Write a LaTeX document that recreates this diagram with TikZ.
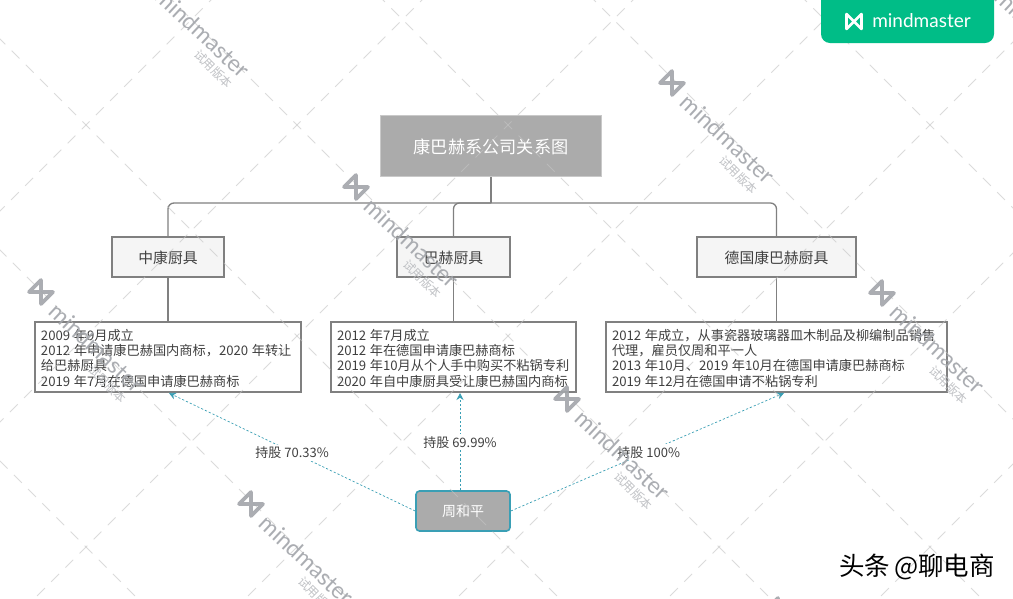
\documentclass[tikz,border=0pt]{standalone}
\usepackage{fontspec}
\setmainfont{Noto Sans CJK SC}
\newfontfamily\latofont{Lato}
\usetikzlibrary{arrows.meta}
\definecolor{rootgray}{HTML}{ABABAB}
\definecolor{rootedge}{HTML}{C9C9C9}
\definecolor{kidfill}{HTML}{F5F5F5}
\definecolor{edgegray}{HTML}{808080}
\definecolor{inkgray}{HTML}{404040}
\definecolor{tealline}{HTML}{3A9FB5}
\definecolor{tabgreen}{HTML}{00BD87}
\definecolor{wmgray}{HTML}{A2A5AA}
\definecolor{wmline}{HTML}{C4C4C4}
\newcommand{\yy}{\kern3.5pt}
\newcommand{\lowtxt}[1]{\raisebox{-0.41em}[6pt][6pt]{#1}}
\tikzset{
  rootbox/.style={draw=rootedge,line width=1.5pt,fill=rootgray,text=white,minimum width=221pt,minimum height=61pt,inner sep=0pt,font=\fontsize{17.2}{20}\selectfont},
  kidbox/.style={draw=edgegray,line width=1.2pt,fill=kidfill,text=inkgray,minimum height=40pt,inner sep=0pt,font=\fontsize{14.8}{18}\selectfont},
  infobox/.style={draw=edgegray,line width=1.2pt,fill=white,text=inkgray,minimum height=70pt,inner sep=0pt,align=left,font=\fontsize{13.2}{15.4}\selectfont},
  personbox/.style={draw=tealline,line width=1.6pt,fill=rootgray,text=white,rounded corners=3.5pt,minimum width=94pt,minimum height=40pt,inner sep=0pt,font=\fontsize{14}{17}\selectfont},
  trunk/.style={draw=edgegray,line width=1.3pt,rounded corners=6pt},
  stem/.style={draw=edgegray,line width=1.3pt},
  holdline/.style={draw=tealline,line width=.7pt,dash pattern=on 2.2pt off 2pt,-{Stealth[length=7pt,width=7pt,fill=tealline]}},
  holdlabel/.style={fill=white,text=inkgray,inner sep=2pt,font=\fontsize{13}{15}\selectfont},
  wmgrid/.style={draw=wmline,line width=.8pt,dash pattern=on 11pt off 9pt},
  wmname/.style={text=wmgray,font=\latofont\fontsize{23}{23}\selectfont,inner sep=0pt},
  wmsub/.style={text=wmgray!75,font=\fontsize{12}{12}\selectfont,inner sep=0pt},
  wmlogo/.style={draw=wmgray,line width=3.6pt,line join=round,line cap=round},
}
\begin{document}
\begin{tikzpicture}[x=1pt,y=-1pt]
\useasboundingbox (0,0) rectangle (1013,598);
\fill[white] (0,0) rectangle (1013,598);
% nodes
\node[rootbox] (root) at (491,146) {\lowtxt{康巴赫系公司关系图}};
\node[kidbox,minimum width=112pt] (kidA) at (168,257) {\lowtxt{中康厨具}};
\node[kidbox,minimum width=113pt] (kidB) at (453.5,257) {\lowtxt{巴赫厨具}};
\node[kidbox,minimum width=159pt] (kidC) at (776.5,257) {\lowtxt{德国康巴赫厨具}};
\node[infobox,text width=254pt,minimum width=266pt,inner xsep=6pt] (infoA) at (168,357) {\rule{0pt}{13.5pt}2009\yy 年9月成立\\2012\yy 年申请康巴赫国内商标，2020\yy 年转让\\给巴赫厨具\\2019\yy 年7月在德国申请康巴赫商标};
\node[infobox,text width=233pt,minimum width=245pt,inner xsep=6pt] (infoB) at (453.5,357) {\rule{0pt}{13.5pt}2012\yy 年7月成立\\2012\yy 年在德国申请康巴赫商标\\2019\yy 年10月从个人手中购买不粘锅专利\\2020\yy 年自中康厨具受让康巴赫国内商标};
\node[infobox,text width=329pt,minimum width=341pt,inner xsep=6pt] (infoC) at (776.5,357) {\rule{0pt}{13.5pt}2012\yy 年成立，从事瓷器玻璃器皿木制品及柳编制品销售\\代理，雇员仅周和平一人\\2013\yy 年10月、2019\yy 年10月在德国申请康巴赫商标\\2019\yy 年12月在德国申请不粘锅专利};
\node[personbox] (zhou) at (463,511) {周和平};
% tree connectors
\coordinate (bus) at (491,203);
\draw[stem] (root.south) -- (bus);
\draw[trunk] (kidA.north) |- (bus);
\draw[trunk] (kidB.north) |- (bus);
\draw[trunk] (kidC.north) |- (bus);
\draw[stem] (kidA.south) -- (infoA.north);
\draw[stem] (kidB.south) -- (infoB.north);
\draw[stem] (kidC.south) -- (infoC.north);
% holdings
\coordinate (endA) at (169,393);
\coordinate (endB) at (460,393);
\coordinate (endC) at (784,393);
\coordinate (zhouTop) at (460,490);
\draw[holdline] (zhou.west) -- node[holdlabel,pos=.5,yshift=-1pt] {持股\kern3pt 70.33\%} (endA);
\draw[holdline] (zhouTop) -- node[holdlabel,pos=.49] {持股\kern3pt 69.99\%} (endB);
\draw[holdline] (zhou.east) -- node[holdlabel,pos=.505,yshift=-1pt] {持股\kern3pt 100\%} (endC);
% watermark
\begin{scope}[opacity=.6]
\foreach \c in {-461,-250,-39,172,383,594,805}
  \draw[wmgrid] ({\c-20},-20) -- ({\c+618},618);
\foreach \c in {211,422,633,844,1055,1266,1477}
  \draw[wmgrid] ({\c+20},-20) -- ({\c-618},618);
\end{scope}
\begin{scope}[opacity=.9]
\foreach \px/\py in {147/-23,41/292,251/504,356/187,672/83,567/399,882/293,987/-22,778/610}{
  \begin{scope}[shift={(\px,\py)},rotate=-45]
    \draw[wmlogo] (-8.5,-8.5) -- (8.5,8.5) -- (8.5,-8.5) -- (-8.5,8.5) -- cycle;
    \node[wmname,rotate=-43] at (79,0) {mindmaster};
    \node[wmsub,rotate=-45] at (112,18) {试用版本};
  \end{scope}
}
\end{scope}
% brand tab
\fill[tabgreen,rounded corners=9pt] (821,-15) rectangle (994,43);
\draw[white,line width=2.6pt,line join=round,line cap=round] (846.5,14) -- (861.5,29) -- (861.5,14) -- (846.5,29) -- cycle;
\node[text=white,font=\latofont\fontsize{19}{20}\selectfont,inner sep=0pt] (brand) at (921.5,21) {mindmaster};
% signature
\node[text=black,font=\fontsize{25.5}{25.5}\selectfont,inner sep=0pt] (sig) at (917,567) {头条\kern4pt @聊电商};
\end{tikzpicture}
\end{document}
